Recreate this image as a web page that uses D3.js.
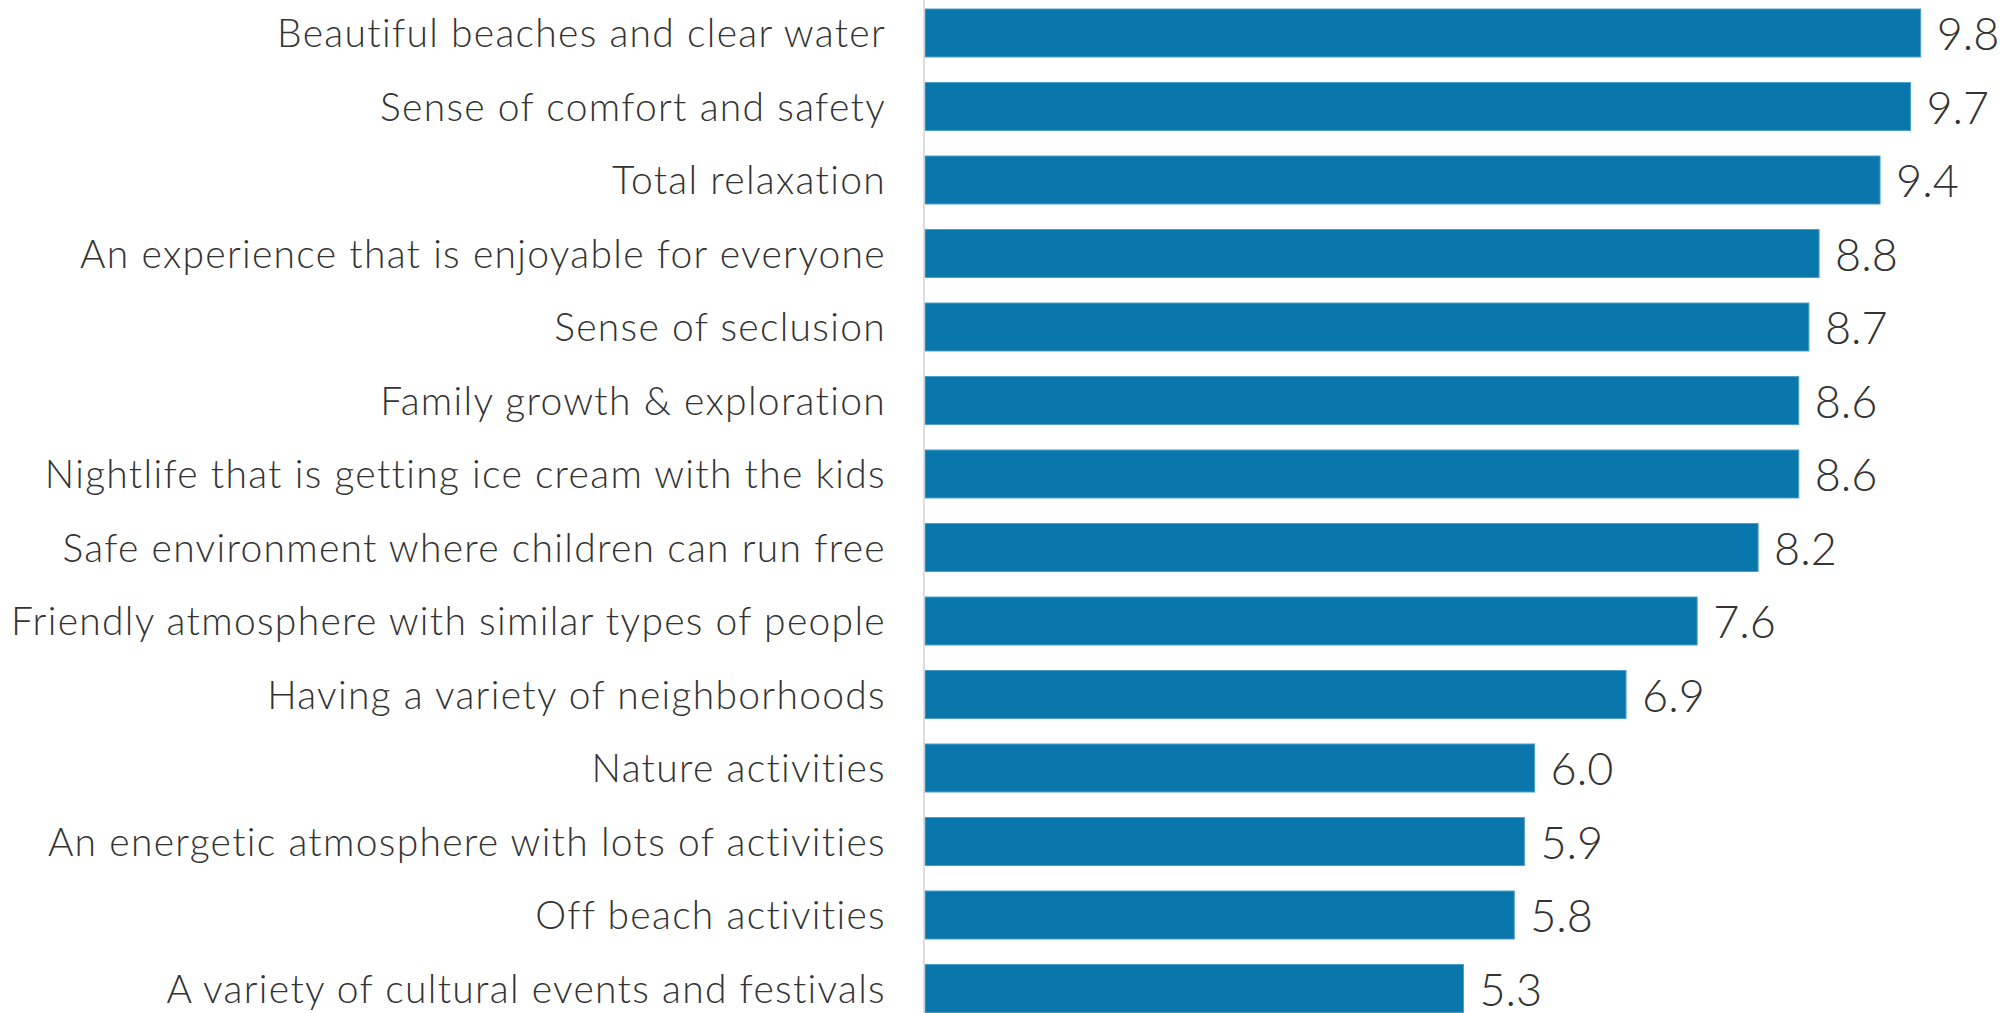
<!DOCTYPE html>
<html lang="en">
	<head>
		<meta charset="utf-8">
		<title>Beach destination attributes</title>
		<script type="text/javascript" src="https://cdn.jsdelivr.net/npm/d3@7"></script>
		<style type="text/css">
			body { margin: 0; background: #fff; }
			text { font-family: Lato, "Open Sans", sans-serif; }
		</style>
	</head>
	<body>
		<script type="text/javascript">

			//Data
			let categories = [
				"Beautiful beaches and clear water",
				"Sense of comfort and safety",
				"Total relaxation",
				"An experience that is enjoyable for everyone",
				"Sense of seclusion",
				"Family growth & exploration",
				"Nightlife that is getting ice cream with the kids",
				"Safe environment where children can run free",
				"Friendly atmosphere with similar types of people",
				"Having a variety of neighborhoods",
				"Nature activities",
				"An energetic atmosphere with lots of activities",
				"Off beach activities",
				"A variety of cultural events and festivals"
			];
			let values = [9.8, 9.7, 9.4, 8.8, 8.7, 8.6, 8.6, 8.2, 7.6, 6.9, 6.0, 5.9, 5.8, 5.3];

			//Width and height
			let w = 2016;
			let h = 1013;
			let x0 = 925;

			let data = categories.map((c, i) => ({ name: c, value: values[i] }));

			//Scales
			let x = d3.scaleLinear()
						.domain([0, 10])
						.range([x0, x0 + 1016]);

			let y = d3.scaleBand()
						.domain(categories)
						.range([-3.75, -3.75 + 14 * 73.5])
						.paddingInner(0.347)
						.paddingOuter(0.1735);

			let svg = d3.select("body")
						.append("svg")
						  .attr("width", w)
						  .attr("height", h);

			//Bars
			svg.selectAll("rect.bar")
				 .data(data)
				 .enter()
			   .append("rect")
				 .attr("class", "bar")
				 .attr("x", x(0))
				 .attr("y", d => y(d.name))
				 .attr("width", d => x(d.value) - x(0))
				 .attr("height", y.bandwidth())
				 .style("fill", "#0a77ac")
				 .style("stroke", "#4d9fcb")
				 .style("stroke-width", 1);

			//Baseline
			svg.append("line")
				 .attr("x1", x0 - 1)
				 .attr("x2", x0 - 1)
				 .attr("y1", 0)
				 .attr("y2", h)
				 .style("stroke", "#d2d2d2")
				 .style("stroke-width", 1.5);

			//Category labels
			svg.selectAll("text.cat")
				 .data(data)
				 .enter()
			   .append("text")
				 .attr("class", "cat")
				 .attr("x", 886)
				 .attr("y", d => y(d.name) + y.bandwidth() / 2 + 14)
				 .attr("text-anchor", "end")
				 .style("font-size", "39px")
				 .style("font-weight", 300)
				 .style("letter-spacing", "1.3px")
				 .style("fill", "#333")
				 .text(d => d.name);

			//Value labels
			svg.selectAll("text.val")
				 .data(data)
				 .enter()
			   .append("text")
				 .attr("class", "val")
				 .attr("x", d => x(d.value) + 16)
				 .attr("y", d => y(d.name) + y.bandwidth() / 2 + 17)
				 .style("font-size", "45px")
				 .style("font-weight", 300)
				 .style("fill", "#333")
				 .text(d => d3.format(".1f")(d.value));

		</script>
	</body>
</html>
